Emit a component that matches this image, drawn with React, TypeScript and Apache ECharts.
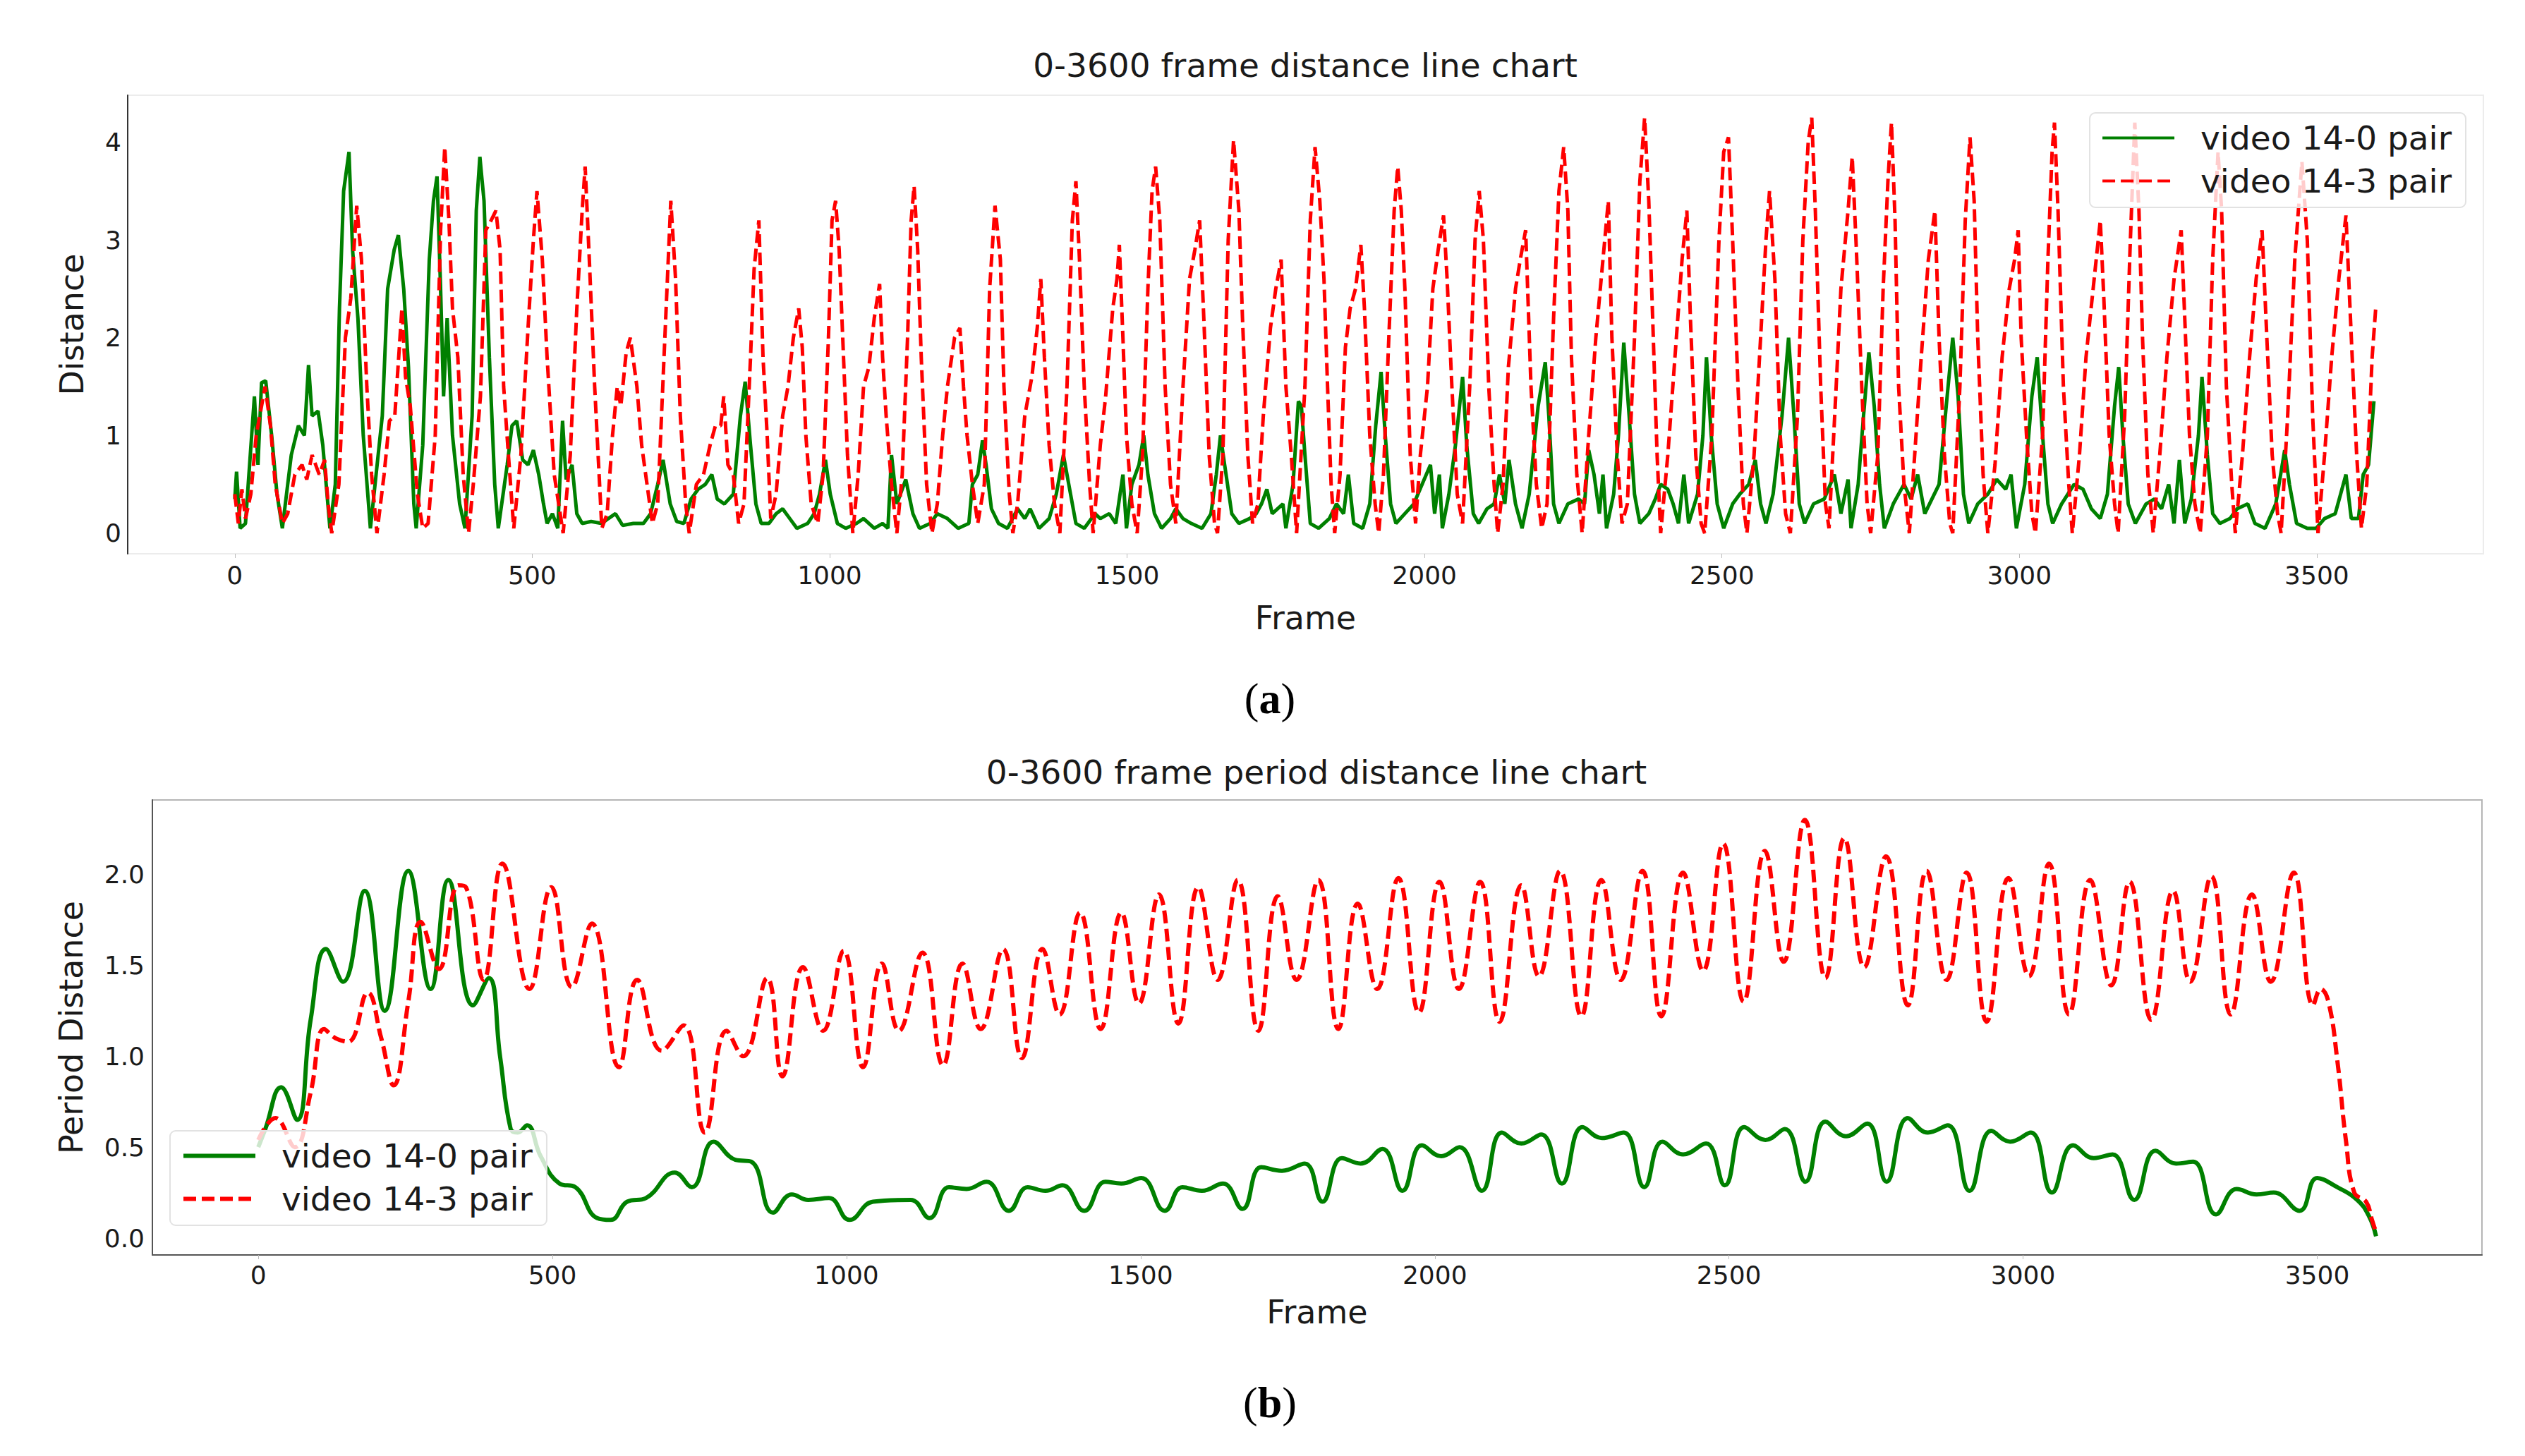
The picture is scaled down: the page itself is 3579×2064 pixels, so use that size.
import * as echarts from 'echarts';
import { useEffect, useRef } from 'react';

const frameTicks = [0, 500, 1000, 1500, 2000, 2500, 3000, 3500];
const distanceTicks = [0, 1, 2, 3, 4];
const periodTicks = [0, 0.5, 1, 1.5, 2];
const pairNames = ['video 14-0 pair', 'video 14-3 pair'];

// (a) frame distance, video 14-0 pair  [frame, distance]
const distance140 = [
    [0, 0.35], [3, 0.63], [9, 0.05], [18, 0.1], [33, 1.4], [39, 0.7], [45, 1.54], [52, 1.56], [62, 1.0], [71, 0.4],
    [80, 0.05], [95, 0.8], [107, 1.1], [117, 1.0], [124, 1.72], [130, 1.2], [140, 1.25], [148, 0.9], [160, 0.05], [169, 0.5],
    [176, 2.3], [183, 3.5], [192, 3.9], [198, 2.9], [207, 2.2], [216, 1.0], [228, 0.05], [248, 1.2], [257, 2.5], [268, 2.9],
    [275, 3.05], [284, 2.5], [292, 1.7], [301, 0.3], [305, 0.05], [316, 0.9], [327, 2.8], [334, 3.4], [340, 3.65], [346, 2.5],
    [351, 1.4], [357, 2.2], [366, 1.0], [378, 0.3], [387, 0.05], [399, 1.2], [406, 3.3], [412, 3.85], [419, 3.4], [428, 1.8],
    [437, 0.5], [443, 0.05], [458, 0.7], [466, 1.1], [474, 1.15], [484, 0.75], [493, 0.7], [502, 0.85], [511, 0.6], [519, 0.3],
    [525, 0.1], [534, 0.2], [543, 0.05], [551, 1.15], [557, 0.55], [567, 0.7], [575, 0.2], [584, 0.1], [599, 0.12], [617, 0.1],
    [628, 0.15], [640, 0.2], [652, 0.08], [670, 0.1], [687, 0.1], [699, 0.2], [711, 0.5], [720, 0.75], [732, 0.3], [743, 0.12],
    [755, 0.1], [767, 0.35], [779, 0.45], [791, 0.5], [802, 0.6], [811, 0.35], [823, 0.3], [838, 0.4], [850, 1.2], [858, 1.55],
    [867, 0.9], [876, 0.3], [885, 0.1], [898, 0.1], [910, 0.2], [921, 0.25], [933, 0.15], [945, 0.05], [963, 0.1], [974, 0.2],
    [983, 0.4], [993, 0.75], [1001, 0.4], [1013, 0.1], [1027, 0.05], [1045, 0.1], [1057, 0.15], [1075, 0.05], [1089, 0.1], [1098, 0.05],
    [1104, 0.8], [1113, 0.3], [1128, 0.55], [1140, 0.2], [1151, 0.05], [1169, 0.1], [1181, 0.2], [1198, 0.15], [1216, 0.05], [1234, 0.1],
    [1240, 0.5], [1249, 0.6], [1257, 0.95], [1263, 0.7], [1272, 0.25], [1284, 0.1], [1299, 0.05], [1316, 0.25], [1328, 0.15], [1337, 0.25],
    [1352, 0.05], [1369, 0.15], [1381, 0.4], [1393, 0.8], [1402, 0.5], [1414, 0.1], [1428, 0.05], [1446, 0.2], [1455, 0.15], [1470, 0.2],
    [1481, 0.1], [1493, 0.6], [1499, 0.05], [1508, 0.5], [1520, 0.7], [1528, 1.0], [1535, 0.6], [1546, 0.2], [1558, 0.05], [1573, 0.15],
    [1582, 0.25], [1594, 0.15], [1608, 0.1], [1626, 0.05], [1641, 0.2], [1650, 0.6], [1657, 1.0], [1664, 0.7], [1676, 0.2], [1688, 0.1],
    [1706, 0.15], [1717, 0.2], [1726, 0.3], [1735, 0.45], [1744, 0.2], [1762, 0.3], [1767, 0.05], [1779, 0.5], [1788, 1.35], [1793, 1.3],
    [1799, 0.8], [1808, 0.1], [1822, 0.05], [1840, 0.15], [1852, 0.3], [1864, 0.2], [1872, 0.6], [1881, 0.1], [1896, 0.05], [1908, 0.3],
    [1918, 1.1], [1927, 1.65], [1934, 1.0], [1943, 0.3], [1952, 0.1], [1967, 0.2], [1982, 0.3], [1996, 0.5], [2010, 0.7], [2017, 0.2],
    [2025, 0.6], [2030, 0.05], [2041, 0.4], [2052, 0.9], [2064, 1.6], [2071, 0.9], [2082, 0.2], [2091, 0.1], [2105, 0.25], [2117, 0.3],
    [2126, 0.6], [2135, 0.3], [2142, 0.75], [2153, 0.3], [2164, 0.05], [2176, 0.4], [2191, 1.3], [2203, 1.75], [2209, 1.2], [2217, 0.3],
    [2226, 0.1], [2241, 0.3], [2259, 0.35], [2269, 0.3], [2276, 0.85], [2285, 0.6], [2294, 0.2], [2300, 0.6], [2306, 0.05], [2318, 0.4],
    [2326, 1.0], [2335, 1.95], [2344, 1.2], [2353, 0.4], [2362, 0.1], [2377, 0.2], [2388, 0.35], [2397, 0.5], [2409, 0.45], [2418, 0.3],
    [2427, 0.1], [2436, 0.6], [2444, 0.1], [2459, 0.4], [2468, 1.0], [2474, 1.8], [2482, 1.0], [2492, 0.3], [2503, 0.05], [2518, 0.3],
    [2530, 0.4], [2545, 0.5], [2556, 0.75], [2565, 0.3], [2574, 0.1], [2586, 0.4], [2601, 1.2], [2612, 2.0], [2621, 1.2], [2630, 0.3],
    [2639, 0.1], [2654, 0.3], [2672, 0.35], [2689, 0.6], [2700, 0.2], [2712, 0.55], [2717, 0.05], [2729, 0.5], [2738, 1.2], [2747, 1.85],
    [2756, 1.3], [2765, 0.5], [2773, 0.05], [2788, 0.3], [2806, 0.5], [2818, 0.35], [2829, 0.6], [2841, 0.2], [2853, 0.35], [2865, 0.5],
    [2877, 1.3], [2888, 2.0], [2897, 1.4], [2906, 0.4], [2915, 0.1], [2930, 0.3], [2947, 0.4], [2962, 0.55], [2977, 0.45], [2986, 0.6],
    [2995, 0.05], [3009, 0.5], [3021, 1.4], [3030, 1.8], [3039, 1.0], [3048, 0.3], [3056, 0.1], [3071, 0.3], [3092, 0.5], [3107, 0.45],
    [3121, 0.25], [3136, 0.15], [3148, 0.4], [3160, 1.3], [3167, 1.7], [3174, 1.0], [3183, 0.3], [3195, 0.1], [3213, 0.3], [3227, 0.35],
    [3239, 0.25], [3251, 0.5], [3260, 0.1], [3269, 0.75], [3278, 0.1], [3289, 0.35], [3301, 1.0], [3307, 1.6], [3316, 0.8], [3325, 0.2],
    [3337, 0.1], [3354, 0.15], [3366, 0.25], [3384, 0.3], [3396, 0.1], [3413, 0.05], [3431, 0.3], [3446, 0.85], [3454, 0.5], [3466, 0.1],
    [3484, 0.05], [3499, 0.05], [3513, 0.15], [3531, 0.2], [3549, 0.6], [3558, 0.15], [3570, 0.15], [3578, 0.6], [3587, 0.7], [3596, 1.35],
];

// (a) frame distance, video 14-3 pair
const distance143 = [
    [0, 0.4], [6, 0.1], [12, 0.45], [18, 0.15], [27, 0.4], [36, 1.0], [51, 1.5], [60, 1.1], [68, 0.5], [80, 0.1],
    [89, 0.2], [101, 0.6], [113, 0.7], [121, 0.55], [130, 0.8], [142, 0.6], [151, 0.75], [157, 0.3], [163, 0.0], [175, 0.5],
    [186, 2.0], [195, 2.4], [205, 3.35], [213, 2.8], [222, 1.5], [230, 0.6], [239, 0.0], [251, 0.6], [260, 1.15], [269, 1.2],
    [281, 2.3], [287, 1.6], [295, 1.3], [307, 0.4], [316, 0.05], [325, 0.1], [337, 1.0], [346, 3.1], [353, 3.95], [360, 3.2],
    [366, 2.3], [375, 1.8], [384, 0.6], [393, 0.0], [401, 0.5], [413, 1.4], [422, 3.1], [431, 3.2], [439, 3.3], [446, 2.9],
    [452, 1.5], [460, 0.8], [469, 0.05], [481, 0.8], [493, 2.1], [502, 3.0], [508, 3.5], [517, 2.8], [525, 1.8], [537, 0.6],
    [552, 0.0], [564, 0.8], [575, 2.3], [584, 3.3], [589, 3.75], [596, 2.8], [605, 1.5], [617, 0.05], [626, 0.2], [635, 1.0],
    [643, 1.5], [649, 1.3], [658, 1.85], [665, 2.0], [676, 1.5], [684, 0.9], [693, 0.5], [702, 0.1], [711, 0.3], [723, 2.0],
    [733, 3.4], [741, 2.6], [749, 1.2], [758, 0.3], [764, 0.0], [776, 0.5], [788, 0.6], [799, 0.9], [808, 1.1], [817, 1.1],
    [822, 1.4], [829, 0.7], [838, 0.6], [847, 0.1], [856, 0.3], [867, 1.8], [873, 2.7], [881, 3.2], [888, 1.8], [895, 1.0],
    [901, 0.15], [910, 0.4], [921, 1.2], [930, 1.5], [939, 2.0], [948, 2.3], [954, 1.9], [960, 1.0], [969, 0.3], [980, 0.1],
    [989, 0.6], [998, 2.0], [1004, 3.2], [1010, 3.4], [1016, 2.9], [1022, 2.0], [1030, 0.8], [1039, 0.0], [1048, 0.6], [1057, 1.5],
    [1066, 1.7], [1075, 2.2], [1084, 2.55], [1089, 1.8], [1095, 1.2], [1104, 0.5], [1113, 0.0], [1122, 0.6], [1131, 2.0], [1137, 3.2],
    [1142, 3.55], [1148, 2.9], [1154, 1.8], [1163, 0.5], [1172, 0.0], [1181, 0.3], [1190, 1.0], [1198, 1.5], [1210, 2.0], [1219, 2.1],
    [1225, 1.5], [1231, 1.0], [1240, 0.5], [1249, 0.1], [1260, 0.5], [1269, 2.5], [1278, 3.35], [1287, 2.8], [1293, 1.5], [1302, 0.4],
    [1308, 0.0], [1316, 0.3], [1328, 1.2], [1340, 1.6], [1349, 2.1], [1355, 2.6], [1361, 1.8], [1369, 0.9], [1378, 0.3], [1387, 0.0],
    [1399, 1.5], [1408, 3.2], [1414, 3.6], [1420, 2.8], [1428, 1.5], [1437, 0.5], [1443, 0.0], [1455, 0.9], [1464, 1.4], [1476, 2.3],
    [1483, 2.6], [1487, 2.95], [1493, 2.0], [1499, 1.0], [1508, 0.3], [1517, 0.0], [1526, 0.8], [1535, 2.5], [1542, 3.5], [1548, 3.75],
    [1555, 3.2], [1564, 1.5], [1573, 0.5], [1582, 0.1], [1594, 1.5], [1605, 2.6], [1614, 2.9], [1622, 3.2], [1629, 2.2], [1638, 0.8],
    [1647, 0.1], [1652, 0.0], [1661, 0.8], [1670, 3.0], [1679, 4.02], [1688, 3.3], [1694, 2.2], [1703, 0.8], [1711, 0.1], [1720, 0.3],
    [1729, 1.2], [1741, 2.1], [1750, 2.5], [1759, 2.8], [1767, 1.5], [1776, 0.8], [1785, 0.0], [1799, 1.5], [1808, 3.2], [1816, 3.95],
    [1824, 3.4], [1831, 2.6], [1837, 1.5], [1843, 0.5], [1849, 0.0], [1858, 0.6], [1867, 1.9], [1875, 2.3], [1884, 2.5], [1893, 2.95],
    [1899, 2.3], [1908, 1.0], [1917, 0.3], [1923, 0.0], [1931, 0.6], [1940, 2.0], [1949, 3.3], [1955, 3.75], [1961, 3.3], [1967, 2.5],
    [1976, 0.8], [1985, 0.1], [1993, 0.8], [2005, 1.5], [2014, 2.5], [2023, 2.9], [2032, 3.25], [2038, 2.6], [2046, 1.5], [2055, 0.4],
    [2064, 0.1], [2076, 1.5], [2085, 3.0], [2092, 3.5], [2099, 3.0], [2108, 1.5], [2117, 0.5], [2123, 0.0], [2132, 0.5], [2141, 1.7],
    [2153, 2.5], [2161, 2.8], [2170, 3.1], [2179, 1.5], [2188, 0.5], [2197, 0.05], [2206, 0.3], [2217, 2.2], [2226, 3.5], [2234, 3.95],
    [2241, 3.3], [2247, 1.8], [2256, 0.6], [2265, 0.0], [2276, 1.0], [2288, 2.0], [2297, 2.6], [2309, 3.4], [2315, 2.0], [2324, 0.8],
    [2332, 0.1], [2341, 0.3], [2353, 2.0], [2362, 3.6], [2370, 4.25], [2377, 3.4], [2383, 2.3], [2391, 0.8], [2397, 0.0], [2409, 0.8],
    [2421, 1.8], [2433, 2.8], [2441, 3.3], [2447, 2.2], [2456, 0.8], [2465, 0.1], [2471, 0.0], [2483, 1.0], [2495, 3.0], [2503, 3.9],
    [2511, 4.05], [2518, 3.0], [2527, 1.5], [2536, 0.3], [2542, 0.0], [2554, 0.8], [2565, 2.0], [2574, 3.0], [2580, 3.5], [2589, 2.6],
    [2598, 1.0], [2607, 0.2], [2615, 0.0], [2627, 1.2], [2636, 3.0], [2645, 4.0], [2651, 4.25], [2657, 3.3], [2666, 1.5], [2674, 0.3],
    [2680, 0.05], [2692, 1.5], [2700, 2.5], [2712, 3.3], [2719, 3.85], [2726, 2.9], [2735, 1.5], [2744, 0.3], [2750, 0.0], [2762, 0.8],
    [2771, 2.5], [2779, 3.6], [2785, 4.2], [2791, 3.2], [2797, 1.5], [2806, 0.5], [2815, 0.0], [2824, 0.8], [2835, 1.8], [2847, 2.8],
    [2858, 3.3], [2865, 2.0], [2874, 0.8], [2883, 0.1], [2888, 0.0], [2900, 1.5], [2909, 3.2], [2917, 4.05], [2924, 3.4], [2930, 2.0],
    [2939, 0.6], [2947, 0.0], [2959, 0.7], [2971, 1.8], [2983, 2.5], [2992, 2.8], [2998, 3.1], [3003, 2.0], [3012, 1.0], [3021, 0.2],
    [3027, 0.0], [3039, 1.0], [3048, 2.8], [3055, 3.9], [3059, 4.2], [3065, 3.3], [3074, 1.5], [3083, 0.5], [3089, 0.0], [3101, 0.8],
    [3112, 1.8], [3124, 2.5], [3136, 3.2], [3142, 2.4], [3151, 1.0], [3160, 0.3], [3166, 0.0], [3177, 1.2], [3186, 2.9], [3194, 4.2],
    [3201, 3.3], [3207, 2.0], [3216, 0.6], [3225, 0.0], [3236, 0.8], [3248, 1.8], [3260, 2.6], [3272, 3.1], [3278, 2.2], [3286, 1.0],
    [3295, 0.3], [3304, 0.0], [3316, 1.0], [3325, 2.8], [3334, 3.9], [3340, 3.3], [3348, 1.5], [3357, 0.5], [3363, 0.0], [3375, 0.8],
    [3387, 1.8], [3398, 2.6], [3408, 3.1], [3416, 2.0], [3425, 0.8], [3434, 0.2], [3440, 0.0], [3451, 1.2], [3463, 2.8], [3475, 3.8],
    [3484, 3.0], [3493, 1.2], [3502, 0.0], [3513, 0.8], [3525, 1.8], [3537, 2.6], [3549, 3.25], [3558, 2.0], [3567, 0.8], [3575, 0.05],
    [3584, 0.5], [3593, 1.8], [3599, 2.3],
];

// (b) period distance, video 14-0 pair
const period140 = [
    [0, 0.5], [12, 0.6], [39, 0.83], [66, 0.65], [89, 1.2], [115, 1.59], [144, 1.41], [181, 1.91], [215, 1.25], [255, 2.02],
    [293, 1.37], [323, 1.97], [365, 1.28], [392, 1.43], [411, 1.0], [429, 0.6], [441, 0.58], [457, 0.62], [480, 0.45], [512, 0.3],
    [539, 0.28], [576, 0.11], [599, 0.1], [627, 0.2], [659, 0.22], [708, 0.36], [737, 0.28], [774, 0.53], [811, 0.43], [838, 0.42],
    [875, 0.14], [907, 0.24], [935, 0.21], [970, 0.22], [1005, 0.1], [1045, 0.2], [1109, 0.21], [1141, 0.11], [1174, 0.28], [1204, 0.27],
    [1238, 0.31], [1276, 0.15], [1308, 0.28], [1338, 0.26], [1367, 0.29], [1404, 0.15], [1440, 0.31], [1467, 0.3], [1501, 0.33], [1541, 0.15],
    [1571, 0.28], [1604, 0.26], [1640, 0.3], [1673, 0.16], [1705, 0.39], [1740, 0.37], [1779, 0.41], [1809, 0.2], [1842, 0.44], [1874, 0.41],
    [1911, 0.49], [1945, 0.26], [1978, 0.51], [2011, 0.45], [2042, 0.5], [2080, 0.26], [2114, 0.58], [2147, 0.52], [2181, 0.57], [2216, 0.3],
    [2251, 0.61], [2284, 0.55], [2321, 0.58], [2356, 0.28], [2387, 0.53], [2422, 0.46], [2461, 0.52], [2493, 0.29], [2526, 0.61], [2562, 0.54],
    [2595, 0.6], [2630, 0.31], [2664, 0.64], [2699, 0.56], [2735, 0.63], [2768, 0.31], [2804, 0.66], [2838, 0.58], [2872, 0.62], [2909, 0.26],
    [2946, 0.59], [2978, 0.53], [3013, 0.58], [3049, 0.25], [3085, 0.51], [3120, 0.44], [3152, 0.46], [3189, 0.21], [3225, 0.48], [3260, 0.41],
    [3289, 0.42], [3328, 0.13], [3363, 0.27], [3397, 0.24], [3426, 0.25], [3470, 0.15], [3500, 0.33], [3534, 0.28], [3568, 0.21], [3588, 0.12],
    [3600, 0.01],
];

// (b) period distance, video 14-3 pair
const period143 = [
    [0, 0.54], [29, 0.66], [62, 0.5], [89, 0.8], [112, 1.15], [131, 1.1], [153, 1.08], [186, 1.35], [209, 1.1], [230, 0.84],
    [255, 1.3], [276, 1.74], [307, 1.48], [340, 1.94], [353, 1.93], [383, 1.42], [415, 2.06], [461, 1.37], [498, 1.93], [533, 1.38],
    [567, 1.73], [613, 0.94], [644, 1.42], [686, 1.03], [723, 1.17], [759, 0.58], [796, 1.14], [824, 1.0], [865, 1.43], [891, 0.89],
    [926, 1.49], [960, 1.14], [995, 1.58], [1028, 0.94], [1060, 1.51], [1089, 1.14], [1129, 1.57], [1164, 0.95], [1197, 1.51], [1228, 1.15],
    [1266, 1.59], [1298, 0.99], [1333, 1.59], [1362, 1.23], [1397, 1.79], [1432, 1.15], [1467, 1.79], [1497, 1.29], [1531, 1.89], [1564, 1.18],
    [1598, 1.93], [1631, 1.42], [1665, 1.97], [1700, 1.14], [1733, 1.88], [1765, 1.42], [1802, 1.97], [1836, 1.15], [1869, 1.84], [1902, 1.37],
    [1938, 1.98], [1973, 1.24], [2008, 1.96], [2041, 1.37], [2077, 1.96], [2110, 1.19], [2147, 1.94], [2177, 1.44], [2213, 2.02], [2249, 1.22],
    [2283, 1.97], [2316, 1.42], [2353, 2.02], [2385, 1.22], [2422, 2.01], [2456, 1.47], [2490, 2.17], [2525, 1.3], [2561, 2.13], [2593, 1.52],
    [2629, 2.3], [2664, 1.43], [2696, 2.2], [2730, 1.49], [2767, 2.1], [2804, 1.28], [2836, 2.02], [2870, 1.42], [2904, 2.01], [2938, 1.19],
    [2975, 1.98], [3010, 1.44], [3044, 2.06], [3078, 1.23], [3114, 1.97], [3150, 1.39], [3181, 1.96], [3218, 1.2], [3255, 1.91], [3284, 1.41],
    [3320, 1.99], [3353, 1.23], [3389, 1.89], [3421, 1.41], [3460, 2.01], [3493, 1.28], [3506, 1.37], [3519, 1.3], [3534, 0.98], [3549, 0.53],
    [3563, 0.25], [3583, 0.2], [3593, 0.1], [3600, 0.03],
];

const GREEN = '#008000';
const RED = '#ff0000';
const FONT = 'DejaVu Sans';
const INK = '#1a1a1a';

const App = () => {
    const chartRef = useRef(null);

    useEffect(() => {
        const chartInstance = echarts.init(chartRef.current, null, { renderer: 'svg' });

        const xAxisBase = {
            type: 'value',
            min: -180,
            max: 3780,
            name: 'Frame',
            nameLocation: 'middle',
            nameTextStyle: { fontFamily: FONT, fontSize: 46, color: INK },
            splitLine: { show: false },
            axisTick: { show: true, length: 6, lineStyle: { color: '#bbb' }, customValues: frameTicks },
            axisLabel: { fontFamily: FONT, fontSize: 36, color: INK, customValues: frameTicks, formatter: (v) => String(v) },
        };

        // legend handles drawn as plain lines, no centre marker
        const legendItems = (width) => [
            { name: pairNames[0], itemStyle: { opacity: 0 }, lineStyle: { color: GREEN, width, type: 'solid', opacity: 1 } },
            { name: pairNames[1], itemStyle: { opacity: 0 }, lineStyle: { color: RED, width, type: [18, 8], opacity: 1 } },
        ];

        const legendBase = {
            orient: 'vertical',
            itemWidth: 102,
            itemHeight: 14,
            itemGap: 14,
            backgroundColor: 'rgba(255,255,255,0.8)',
            borderColor: '#e2e2e2',
            borderWidth: 2,
            borderRadius: 8,
            textStyle: { fontFamily: FONT, fontSize: 47, color: INK, padding: [0, 0, 0, 32] },
        };

        const line = (name, data, color, dashed, xi, width) => ({
            name,
            type: 'line',
            xAxisIndex: xi,
            yAxisIndex: xi,
            data,
            symbol: 'none',
            smooth: xi === 1 ? 0.45 : false,
            z: dashed ? 3 : 2,
            itemStyle: { color },
            lineStyle: { color, width, type: dashed ? [18, 8] : 'solid' },
        });

        const option = {
            animation: false,
            backgroundColor: '#fff',
            grid: [
                { left: 181, right: 59, top: 135, height: 650, show: true, borderColor: '#ececec', borderWidth: 2 },
                { left: 216, right: 61, top: 1134, height: 645, show: true, borderColor: '#b5b5b5', borderWidth: 2 },
            ],
            xAxis: [
                {
                    ...xAxisBase,
                    gridIndex: 0,
                    nameGap: 68,
                    axisLine: { show: false, onZero: false },
                    axisLabel: { ...xAxisBase.axisLabel, margin: 12 },
                },
                {
                    ...xAxisBase,
                    gridIndex: 1,
                    nameGap: 58,
                    axisLine: { show: true, onZero: false, lineStyle: { color: '#555', width: 2 } },
                    axisLabel: { ...xAxisBase.axisLabel, margin: 10 },
                },
            ],
            yAxis: [
                {
                    type: 'value',
                    gridIndex: 0,
                    min: -0.21,
                    max: 4.48,
                    name: 'Distance',
                    nameLocation: 'middle',
                    nameGap: 56,
                    nameTextStyle: { fontFamily: FONT, fontSize: 46, color: INK },
                    splitLine: { show: false },
                    axisLine: { show: true, onZero: false, lineStyle: { color: '#333', width: 2 } },
                    axisTick: { show: false, customValues: distanceTicks },
                    axisLabel: { fontFamily: FONT, fontSize: 36, color: INK, margin: 9, customValues: distanceTicks },
                },
                {
                    type: 'value',
                    gridIndex: 1,
                    min: -0.093,
                    max: 2.41,
                    name: 'Period Distance',
                    nameLocation: 'middle',
                    nameGap: 92,
                    nameTextStyle: { fontFamily: FONT, fontSize: 46, color: INK },
                    splitLine: { show: false },
                    axisLine: { show: true, onZero: false, lineStyle: { color: '#555', width: 2 } },
                    axisTick: { show: false, customValues: periodTicks },
                    axisLabel: {
                        fontFamily: FONT,
                        fontSize: 36,
                        color: INK,
                        margin: 11,
                        customValues: periodTicks,
                        formatter: (v) => v.toFixed(1),
                    },
                },
            ],
            legend: [
                { ...legendBase, data: legendItems(4), right: 84, top: 160, padding: [12, 20, 14, 16] },
                { ...legendBase, data: legendItems(6), left: 241, top: 1603, padding: [12, 20, 14, 16] },
            ],
            graphic: [
                {
                    type: 'text',
                    x: 1850,
                    y: 92,
                    style: { text: '0-3600 frame distance line chart', font: `47px "${FONT}"`, fill: INK, align: 'center', verticalAlign: 'middle' },
                },
                {
                    type: 'text',
                    x: 1866,
                    y: 1094,
                    style: { text: '0-3600 frame period distance line chart', font: `47px "${FONT}"`, fill: INK, align: 'center', verticalAlign: 'middle' },
                },
                {
                    type: 'text',
                    x: 1800,
                    y: 990,
                    style: {
                        text: '{p|(}{b|a}{p|)}',
                        align: 'center',
                        verticalAlign: 'middle',
                        rich: {
                            p: { font: '62px "Liberation Serif"', fill: '#000' },
                            b: { font: 'bold 62px "Liberation Serif"', fill: '#000' },
                        },
                    },
                },
                {
                    type: 'text',
                    x: 1800,
                    y: 1988,
                    style: {
                        text: '{p|(}{b|b}{p|)}',
                        align: 'center',
                        verticalAlign: 'middle',
                        rich: {
                            p: { font: '62px "Liberation Serif"', fill: '#000' },
                            b: { font: 'bold 62px "Liberation Serif"', fill: '#000' },
                        },
                    },
                },
            ],
            series: [
                line(pairNames[0], distance140, GREEN, false, 0, 5),
                line(pairNames[1], distance143, RED, true, 0, 5),
                line(pairNames[0], period140, GREEN, false, 1, 6),
                line(pairNames[1], period143, RED, true, 1, 6),
            ],
        };

        chartInstance.setOption(option);

        return () => {
            chartInstance.dispose();
        };
    }, []);

    return (
        <div
            ref={chartRef}
            style={{ position: 'absolute', left: 0, top: 0, width: '3579px', height: '2064px', background: '#fff' }}
        />
    );
};

export default App;
